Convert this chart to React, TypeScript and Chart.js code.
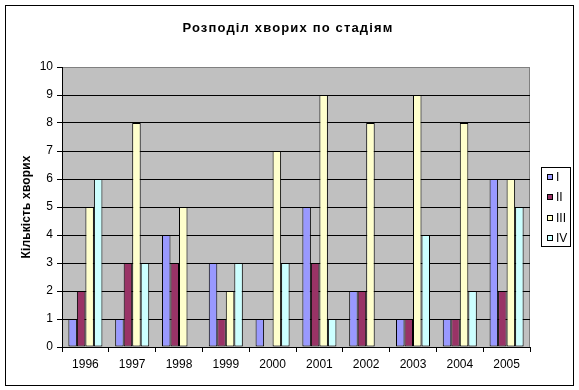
import React, { useEffect, useRef } from "react";
import { Chart, registerables } from "chart.js";

Chart.register(...registerables);

const years = ["1996", "1997", "1998", "1999", "2000", "2001", "2002", "2003", "2004", "2005"];
const stageI = [1, 1, 4, 3, 1, 5, 2, 1, 1, 6];
const stageII = [2, 3, 3, 1, 0, 3, 2, 1, 1, 2];
const stageIII = [5, 8, 5, 2, 7, 9, 8, 9, 8, 6];
const stageIV = [6, 3, 0, 3, 3, 1, 0, 4, 2, 5];
const seriesLabels = ["I", "II", "III", "IV"];
const seriesColors = ["#9999FF", "#993366", "#FFFFCC", "#CCFFFF"];
const chartTitle = "Розподіл хворих по стадіям";
const yAxisTitle = "Кількість хворих";
const yMin = 0;
const yMax = 10;
const yStep = 1;

const FONT = "'Liberation Sans', Arial, sans-serif";

function fitText(ctx: CanvasRenderingContext2D, text: string, target: number) {
  (ctx as any).letterSpacing = "0px";
  const w = ctx.measureText(text).width;
  const sp = Math.max(0, Math.min(2, (target - w) / Math.max(1, text.length - 1)));
  (ctx as any).letterSpacing = sp.toFixed(2) + "px";
}

const decorPlugin = {
  id: "decor",
  beforeDraw(chart: any) {
    const ctx = chart.ctx as CanvasRenderingContext2D;
    const { left, top, right, bottom } = chart.chartArea;
    ctx.save();
    ctx.fillStyle = "#ffffff";
    ctx.fillRect(0, 0, chart.width, chart.height);
    ctx.strokeStyle = "#000000";
    ctx.lineWidth = 1;
    ctx.strokeRect(5.5, 5.5, 568, 380);
    ctx.fillStyle = "#C0C0C0";
    ctx.fillRect(left, top, right - left, bottom - top);
    ctx.strokeStyle = "#808080";
    ctx.beginPath();
    ctx.moveTo(Math.round(right) - 0.5, top);
    ctx.lineTo(Math.round(right) - 0.5, bottom);
    ctx.stroke();
    ctx.restore();
  },
  afterDraw(chart: any) {
    const ctx = chart.ctx as CanvasRenderingContext2D;
    ctx.save();
    // title
    ctx.fillStyle = "#000000";
    ctx.font = `bold 13px ${FONT}`;
    ctx.textAlign = "center";
    ctx.textBaseline = "middle";
    fitText(ctx, chartTitle, 210);
    ctx.fillText(chartTitle, 288, 28);
    // y axis title
    ctx.save();
    ctx.translate(27, 207);
    ctx.rotate(-Math.PI / 2);
    ctx.font = `bold 12px ${FONT}`;
    fitText(ctx, yAxisTitle, 103);
    ctx.fillText(yAxisTitle, 0, 0);
    ctx.restore();
    (ctx as any).letterSpacing = "0px";
    // legend
    ctx.strokeStyle = "#000000";
    ctx.lineWidth = 1;
    ctx.strokeRect(541.5, 167.5, 29, 79);
    const ys = [177, 197, 218, 238];
    ctx.font = `12px ${FONT}`;
    ctx.textAlign = "left";
    chart.data.datasets.forEach((ds: any, i: number) => {
      const y = ys[i];
      ctx.fillStyle = ds.backgroundColor;
      ctx.fillRect(547, y - 3, 6, 6);
      ctx.strokeRect(547.5, y - 2.5, 5, 5);
      ctx.fillStyle = "#000000";
      ctx.fillText(ds.label, 556, y + 0.5);
    });
    ctx.restore();
  },
};

export default function App() {
  const ref = useRef<HTMLCanvasElement | null>(null);
  useEffect(() => {
    if (!ref.current) return;
    const seriesData = [stageI, stageII, stageIII, stageIV];
    const chart = new Chart(ref.current, {
      type: "bar",
      data: {
        labels: years,
        datasets: seriesData.map((d, i) => ({
          label: seriesLabels[i],
          data: d,
          backgroundColor: seriesColors[i],
          borderColor: "#000000",
          borderWidth: 1,
          borderSkipped: false,
          categoryPercentage: 4 / 5.5,
          barPercentage: 1.0,
        })),
      },
      options: {
        animation: false,
        responsive: true,
        maintainAspectRatio: false,
        devicePixelRatio: 1,
        layout: { padding: { top: 67, right: 49, left: 0, bottom: 0 } },
        plugins: {
          legend: { display: false },
          title: { display: false },
          tooltip: { enabled: false },
        },
        scales: {
          x: {
            afterFit: (s: any) => {
              s.height = 43;
            },
            grid: {
              offset: true,
              drawOnChartArea: false,
              drawTicks: true,
              tickLength: 5,
              tickColor: "#000000",
              color: "#000000",
            },
            border: { display: true, color: "#000000" },
            ticks: {
              color: "#000000",
              font: { family: FONT, size: 12 },
              padding: 5,
              maxRotation: 0,
            },
          },
          y: {
            min: yMin,
            max: yMax,
            afterFit: (s: any) => {
              s.width = 62;
            },
            grid: {
              color: (c: any) => (c.tick && c.tick.value === yMax ? "#808080" : "#000000"),
              drawTicks: true,
              tickLength: 5,
              tickColor: "#000000",
            },
            border: { display: true, color: "#000000" },
            ticks: {
              stepSize: yStep,
              color: "#000000",
              font: { family: FONT, size: 12 },
              padding: 4,
            },
          },
        },
      },
      plugins: [decorPlugin],
    });
    return () => chart.destroy();
  }, []);
  return (
    <div style={{ position: "absolute", left: 0, top: 0, width: 579, height: 390, background: "#fff" }}>
      <canvas ref={ref} width={579} height={390} />
    </div>
  );
}
